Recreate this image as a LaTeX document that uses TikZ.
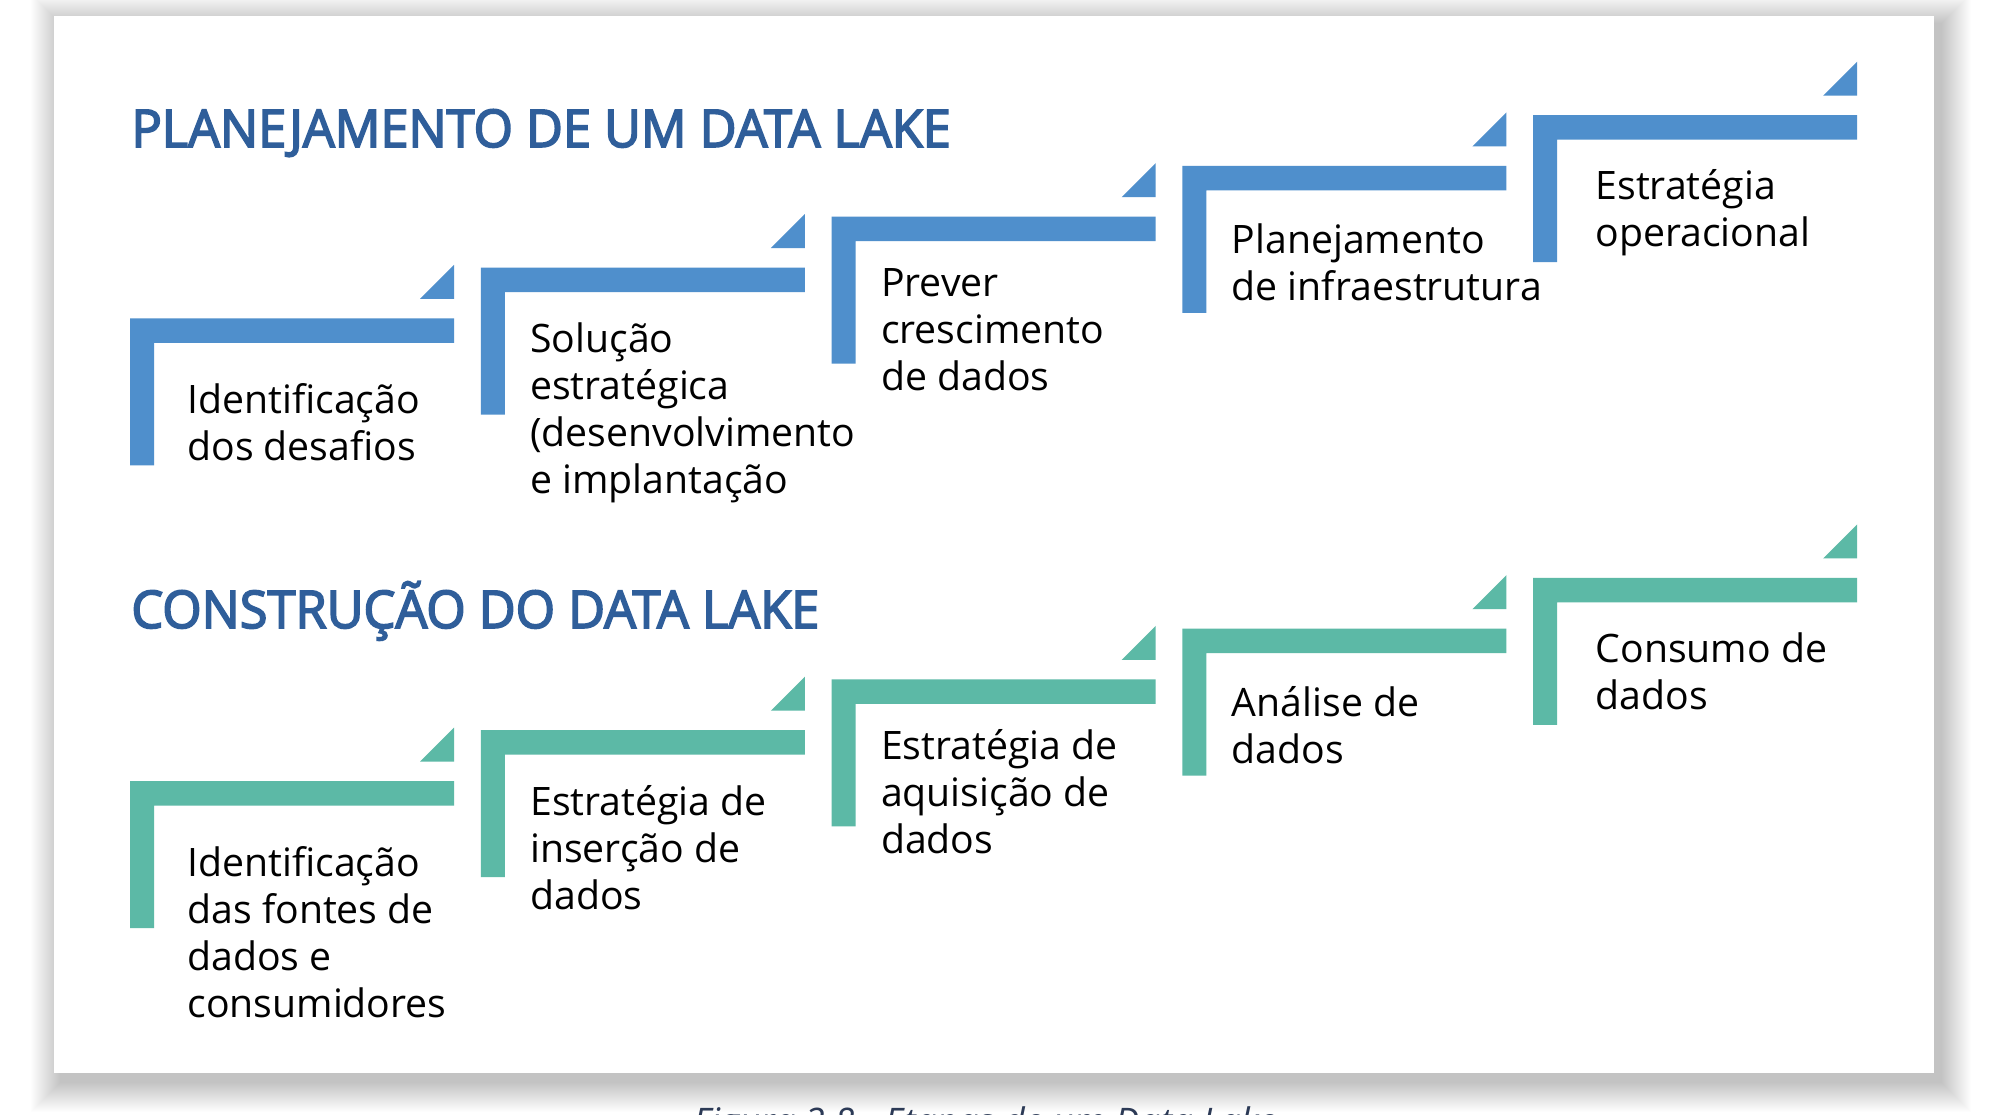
\documentclass[tikz,border=0pt]{standalone}
\usepackage{fontspec}
\setmainfont{Open Sans}
\newfontfamily\titlefam{Open Sans}[FakeBold=3.2, FakeStretch=0.972]

\definecolor{stepblue}{RGB}{79,143,204}
\definecolor{stepgreen}{RGB}{92,185,166}
\definecolor{titleblue}{RGB}{47,94,154}
\definecolor{captiongray}{RGB}{44,58,86}

\newcommand\steptextfont{\fontsize{19.6}{23.5}\selectfont}
\newcommand\titlefont{\fontsize{26}{30}\selectfont\titlefam}
\newcommand\captionfont{\fontsize{18.3}{22}\selectfont\itshape}

\begin{document}
\begin{tikzpicture}[x=0.5pt,y=-0.5pt,
    steptext/.style={anchor=base west, inner sep=0pt, align=left, font=\steptextfont},
    titletext/.style={anchor=base west, inner sep=0pt, text=titleblue, font=\titlefont}]

    % 画底板和阴影
    \useasboundingbox (0,0) rectangle (2000,1114);
    \foreach \i in {1,...,30}
      \fill[black, opacity=0.008] (61-\i,24-\i) rectangle (1941+\i,1082+\i);
    \fill[white] (54,16) rectangle (1934,1073);

    % 插入标题
    \node[titletext] (planTitle) at (131,147) {PLANEJAMENTO DE UM DATA LAKE};
    \node[titletext] (buildTitle) at (131,628) {CONSTRUÇÃO DO DATA LAKE};

    % 画上面一排台阶（\n 为行数）
    \foreach \c/\dx/\dy/\n/\txt in {0/57/95/2/{Identificação\\dos desafios},
        1/49/85/4/{Solução\\estratégica\\(desenvolvimento\\e implantação},
        2/49/80/3/{Prever\\crescimento\\de dados},
        3/49/88/2/{Planejamento\\de infraestrutura},
        4/62/84/2/{Estratégia\\operacional}} {
      \pgfmathsetmacro\sx{130+350.8*\c}
      \pgfmathsetmacro\sy{318.3-50.8*\c}
      \fill[stepblue] (\sx,\sy) -- ++(324,0) -- ++(0,24.5) -- ++(-300,0) -- ++(0,122.5) -- ++(-24,0) -- cycle;
      \fill[stepblue] (\sx+324,\sy-19.5) -- ++(0,-34) -- ++(-34,34) -- cycle;
      \node[steptext] (plan\c) at (\sx+\dx,\sy+\dy+47*\n-47) {\txt};
    }

    % 画下面一排台阶
    \foreach \c/\dx/\dy/\n/\txt in {0/57/95/4/{Identificação\\das fontes de\\dados e\\consumidores},
        1/49/85/3/{Estratégia de\\inserção de\\dados},
        2/49/80/3/{Estratégia de\\aquisição de\\dados},
        3/49/88/2/{Análise de\\dados},
        4/62/85/2/{Consumo de\\dados}} {
      \pgfmathsetmacro\sx{130+350.8*\c}
      \pgfmathsetmacro\sy{781-50.8*\c}
      \fill[stepgreen] (\sx,\sy) -- ++(324,0) -- ++(0,24.5) -- ++(-300,0) -- ++(0,122.5) -- ++(-24,0) -- cycle;
      \fill[stepgreen] (\sx+324,\sy-19.5) -- ++(0,-34) -- ++(-34,34) -- cycle;
      \node[steptext] (build\c) at (\sx+\dx,\sy+\dy+47*\n-47) {\txt};
    }

    % 图题（下面被截掉）
    \node[anchor=base, inner sep=0pt, font=\captionfont, text=captiongray] (caption) at (985,1134)
      {Figura 2.8 - Etapas de um Data Lake};

\end{tikzpicture}
\end{document}
